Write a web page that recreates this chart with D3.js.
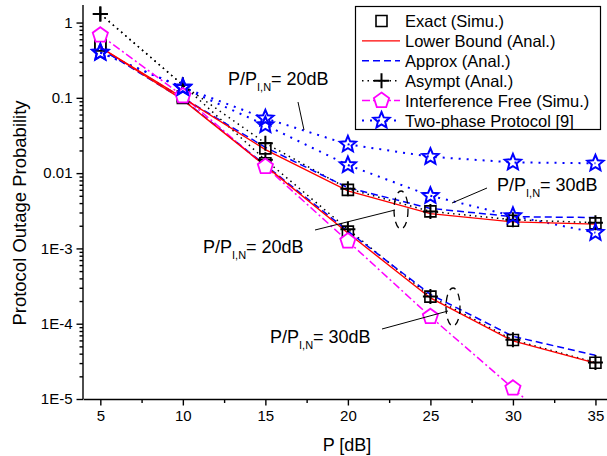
<!DOCTYPE html>
<html>
<head>
<meta charset="utf-8">
<script src="https://cdn.jsdelivr.net/npm/d3@7"></script>
<style>
  body { margin: 0; background: #fff; }
  text { font-family: "Liberation Sans", Arial, sans-serif; }
</style>
</head>
<body>
<div id="container"></div>
<script>
/* CONSTANTS AND GLOBALS */
const width = 607,
  height = 456;

/* DATA */
const pdb = [5, 10, 15, 20, 25, 30, 35];

const exact20 = [0.5, 0.105, 0.0213, 0.006, 0.0031, 0.00233, 0.00215];
const exact30 = [0.5, 0.1, 0.0135, 0.00167, 2.29e-4, 6.08e-5, 3.03e-5];
const lower20 = [0.47, 0.1, 0.0205, 0.0058, 0.0029, 0.00225, 0.0021];
const lower30 = [0.47, 0.094, 0.0125, 0.0016, 2.2e-4, 5.9e-5, 3e-5];
const approx20 = [0.45, 0.1, 0.022, 0.0064, 0.0034, 0.00264, 0.00257];
const approx30 = [0.45, 0.095, 0.0128, 0.0017, 2.45e-4, 6.8e-5, 3.8e-5];
const asym20 = [1.3, 0.148, 0.025, 0.0062, 0.0031, 0.0024, 0.0022];
const asym30 = [1.3, 0.148, 0.015, 0.0018, 2.3e-4, 6.1e-5, 3.05e-5];
const intFree = [0.68, 0.106, 0.0122, 0.00125, 1.24e-4, 1.39e-5, 1.5e-6];
const twoPhase20 = [0.4, 0.138, 0.0534, 0.0241, 0.0165, 0.0139, 0.0135];
const twoPhase30 = [0.4, 0.136, 0.0435, 0.0128, 0.005, 0.0027, 0.00162];

const yTicks = [1, 0.1, 0.01, 1e-3, 1e-4, 1e-5];
const yTickLabels = ["1", "0.1", "0.01", "1E-3", "1E-4", "1E-5"];
const xTicks = [5, 10, 15, 20, 25, 30, 35];

const legendLabels = ["Exact (Simu.)", "Lower Bound (Anal.)", "Approx (Anal.)",
  "Asympt (Anal.)", "Interference Free (Simu.)", "Two-phase Protocol [9]"];

/* SCALES */
const xScale = d3.scaleLinear().domain([3.95, 35.7]).range([83, 607]);
const yScale = d3.scaleLog().domain([1e-5, 1.71]).range([399, 5]);

const svg = d3.select("#container")
  .append("svg")
  .attr("width", width)
  .attr("height", height);

svg.append("defs").append("clipPath")
  .attr("id", "plot-clip")
  .append("rect")
  .attr("x", 83).attr("y", 0)
  .attr("width", width - 83).attr("height", 399);

/* MARKER PATHS */
function starPath(r) {
  const pts = [];
  for (let i = 0; i < 10; i++) {
    const rr = i % 2 === 0 ? r : r * 0.45;
    const a = -Math.PI / 2 + i * Math.PI / 5;
    pts.push([rr * Math.cos(a), rr * Math.sin(a)]);
  }
  return "M" + pts.map(p => p.join(",")).join("L") + "Z";
}
function pentagonPath(r) {
  const pts = [];
  for (let i = 0; i < 5; i++) {
    const a = -Math.PI / 2 + i * 2 * Math.PI / 5;
    pts.push([r * Math.cos(a), r * Math.sin(a)]);
  }
  return "M" + pts.map(p => p.join(",")).join("L") + "Z";
}
const squarePath = "M-5.5,-5.5H5.5V5.5H-5.5Z";
const plusPath = "M-7.5,0H7.5M0,-7.5V7.5";

const styles = {
  exact: { stroke: "none" },
  lower: { stroke: "#ff0000", dash: null, w: 1.4 },
  approx: { stroke: "#0000ff", dash: "7,4", w: 1.5 },
  asym: { stroke: "#000000", dash: "1.5,4", w: 1.5 },
  free: { stroke: "#ff00ff", dash: "8,3,2,3", w: 1.5 },
  two: { stroke: "#0000ff", dash: "2,6", w: 2 }
};

const line = d3.line()
  .x(d => xScale(d[0]))
  .y(d => yScale(d[1]));

const plot = svg.append("g").attr("clip-path", "url(#plot-clip)");

const lineSeries = [
  { vals: twoPhase20, s: styles.two },
  { vals: twoPhase30, s: styles.two },
  { vals: asym20, s: styles.asym },
  { vals: asym30, s: styles.asym },
  { vals: approx20, s: styles.approx },
  { vals: approx30, s: styles.approx },
  { vals: intFree, s: styles.free },
  { vals: lower20, s: styles.lower },
  { vals: lower30, s: styles.lower }
];

plot.selectAll(".series")
  .data(lineSeries)
  .join("path")
  .attr("class", "series")
  .attr("d", d => line(pdb.map((p, i) => [p, d.vals[i]])))
  .attr("fill", "none")
  .attr("stroke", d => d.s.stroke)
  .attr("stroke-width", d => d.s.w)
  .attr("stroke-dasharray", d => d.s.dash);

function markers(vals, path, stroke, fill, sw) {
  plot.append("g")
    .selectAll("path")
    .data(pdb.map((p, i) => [p, vals[i]]))
    .join("path")
    .attr("transform", d => `translate(${xScale(d[0])},${yScale(d[1])})`)
    .attr("d", path)
    .attr("fill", fill)
    .attr("stroke", stroke)
    .attr("stroke-width", sw);
}

markers(exact20, squarePath, "#000", "none", 1.6);
markers(exact30, squarePath, "#000", "none", 1.6);
markers(asym20, plusPath, "#000", "none", 2);
markers(asym30, plusPath, "#000", "none", 2);
markers(intFree, pentagonPath(8), "#ff00ff", "#fff", 1.8);
markers(twoPhase20, starPath(8.5), "#0000ff", "none", 2);
markers(twoPhase30, starPath(8.5), "#0000ff", "none", 2);

/* AXES */
const minorY = [];
[1e-5, 1e-4, 1e-3, 1e-2, 1e-1, 1].forEach(dec => {
  for (let k = 2; k <= 9; k++) if (dec * k <= 1.71) minorY.push(dec * k);
});

svg.append("g")
  .attr("class", "y-axis")
  .attr("transform", "translate(83,0)")
  .call(d3.axisLeft(yScale).tickValues(yTicks)
    .tickFormat((d, i) => yTickLabels[i]).tickSize(6.5).tickPadding(4).tickSizeOuter(0))
  .call(g => g.select(".domain").attr("d", "M0,5V399"))
  .selectAll("text")
  .style("font-size", "15px");

svg.append("g")
  .attr("class", "y-minor")
  .attr("transform", "translate(83,0)")
  .call(d3.axisLeft(yScale).tickValues(minorY).tickFormat("").tickSize(3.5))
  .call(g => g.select(".domain").remove());

svg.append("g")
  .attr("class", "x-axis")
  .attr("transform", "translate(0,399)")
  .call(d3.axisBottom(xScale).tickValues(xTicks).tickSize(6.5).tickPadding(5).tickSizeOuter(0))
  .selectAll("text")
  .style("font-size", "15px");

svg.append("g")
  .attr("class", "x-minor")
  .attr("transform", "translate(0,399)")
  .call(d3.axisBottom(xScale).tickValues([7.5, 12.5, 17.5, 22.5, 27.5, 32.5]).tickFormat("").tickSize(4))
  .call(g => g.select(".domain").remove());

svg.selectAll(".domain, .tick line").attr("stroke-width", 1.4);

svg.append("text")
  .attr("x", 347).attr("y", 451)
  .attr("text-anchor", "middle")
  .style("font-size", "18px")
  .text("P [dB]");

svg.append("text")
  .attr("transform", "translate(26,213) rotate(-90)")
  .attr("text-anchor", "middle")
  .style("font-size", "18.5px")
  .text("Protocol Outage Probability");

/* ANNOTATIONS */
function label(x, y, val) {
  const t = svg.append("text").attr("x", x).attr("y", y).style("font-size", "18px");
  t.append("tspan").text("P/P");
  t.append("tspan").attr("dy", 6).style("font-size", "11px").text("I,N");
  t.append("tspan").attr("dy", -6).text("= " + val);
}
label(228, 85, "20dB");
label(203, 253, "20dB");
label(497, 191, "30dB");
label(270, 343, "30dB");

const leaders = [
  [298, 102, 304, 130],
  [315, 230, 395, 210],
  [487, 188, 452, 203],
  [382, 329, 448, 311]
];
svg.selectAll(".leader")
  .data(leaders)
  .join("line")
  .attr("class", "leader")
  .attr("x1", d => d[0]).attr("y1", d => d[1])
  .attr("x2", d => d[2]).attr("y2", d => d[3])
  .attr("stroke", "#000").attr("stroke-width", 1);

svg.selectAll(".ell")
  .data([[401, 210], [453, 307]])
  .join("ellipse")
  .attr("class", "ell")
  .attr("cx", d => d[0]).attr("cy", d => d[1])
  .attr("rx", 7).attr("ry", 19)
  .attr("fill", "none")
  .attr("stroke", "#000")
  .attr("stroke-width", 1.3)
  .attr("stroke-dasharray", "7,5");

/* LEGEND */
const legend = svg.append("g").attr("class", "legend");
legend.append("rect")
  .attr("x", 355.5).attr("y", 6.5)
  .attr("width", 245).attr("height", 123)
  .attr("fill", "#fff").attr("stroke", "#000").attr("stroke-width", 1.2);

const legendStyles = [styles.exact, styles.lower, styles.approx, styles.asym, styles.free, styles.two];
const legendMarks = [
  { d: squarePath, stroke: "#000", fill: "none", w: 1.6 },
  null,
  null,
  { d: plusPath, stroke: "#000", fill: "none", w: 2 },
  { d: pentagonPath(8), stroke: "#ff00ff", fill: "#fff", w: 1.8 },
  { d: starPath(8.5), stroke: "#0000ff", fill: "none", w: 2 }
];

const rows = legend.selectAll(".row")
  .data(legendLabels)
  .join("g")
  .attr("class", "row")
  .attr("transform", (d, i) => `translate(0,${21 + i * 19.9})`);

rows.filter((d, i) => i > 0)
  .append("line")
  .attr("x1", 362).attr("x2", 400)
  .attr("stroke", (d, i) => legendStyles[i + 1].stroke)
  .attr("stroke-width", (d, i) => legendStyles[i + 1].w)
  .attr("stroke-dasharray", (d, i) => legendStyles[i + 1].dash);

rows.filter((d, i) => legendMarks[i] !== null)
  .append("path")
  .attr("transform", "translate(381.5,0)")
  .attr("d", d => legendMarks[legendLabels.indexOf(d)].d)
  .attr("stroke", d => legendMarks[legendLabels.indexOf(d)].stroke)
  .attr("fill", d => legendMarks[legendLabels.indexOf(d)].fill)
  .attr("stroke-width", d => legendMarks[legendLabels.indexOf(d)].w);

rows.append("text")
  .attr("x", 405).attr("y", 6)
  .style("font-size", "16.5px")
  .text(d => d);
</script>
</body>
</html>
